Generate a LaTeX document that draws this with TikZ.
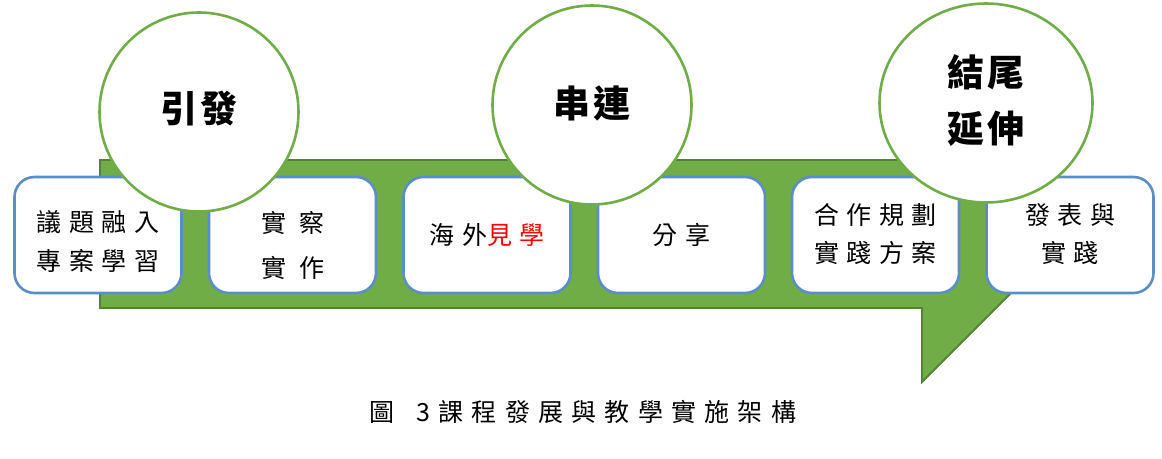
\documentclass[tikz,border=0pt]{standalone}
\usepackage{fontspec}
\usetikzlibrary{shapes.geometric}
\newfontfamily\cjk[LetterSpace=30]{Noto Sans CJK TC}
\newfontfamily\cjkwide[LetterSpace=52]{Noto Sans CJK TC}
\newfontfamily\cjkcirc[LetterSpace=10]{Noto Sans CJK TC}
\newfontfamily\cjkcap[LetterSpace=33]{Noto Sans CJK TC}
\definecolor{bandgreen}{RGB}{112,173,71}
\definecolor{banddark}{RGB}{84,130,53}
\definecolor{boxblue}{RGB}{91,142,201}
\tikzset{
  stagebox/.style={rounded corners=20pt, draw=boxblue, line width=2.6pt, fill=white,
    minimum width=167pt, minimum height=116pt, inner sep=0pt},
  phase/.style={circle, draw=bandgreen, line width=2.6pt, fill=white,
    minimum size=199pt, inner sep=0pt},
  boxtext/.style={font=\cjk\fontsize{25}{39}\selectfont, align=center, inner sep=0pt},
  circtext/.style={font=\cjkcirc\bfseries\fontsize{37}{56}\selectfont, align=center, inner sep=0pt},
}
\begin{document}
\begin{tikzpicture}[x=1pt,y=-1pt]
\useasboundingbox (0,0) rectangle (1162,458);
% green band with tail
\draw[fill=bandgreen, draw=banddark, line width=1.8pt]
  (100,160) -- (1010,160) -- (1010,294) -- (922,382) -- (922,308) -- (100,308) -- cycle;
% stage boxes
\node[stagebox] (b1) at (98,235) {};
\node[stagebox] (b2) at (292.5,235) {};
\node[stagebox] (b3) at (487,235) {};
\node[stagebox] (b4) at (681.5,235) {};
\node[stagebox] (b5) at (875.5,235) {};
\node[stagebox] (b6) at (1070,235) {};
% box texts
\node[boxtext] (t1) at ([yshift=-7pt]b1.center) {議題融入\\專案學習};
\node[boxtext, font=\cjkwide\fontsize{25}{45}\selectfont] (t2) at ([yshift=-10pt]b2.center) {實察\\實作};
\node[boxtext] (t3) at (b3.center) {海外\textcolor{red}{見學}};
\node[boxtext] (t4) at (b4.center) {分享};
\node[boxtext, font=\cjk\fontsize{25}{38}\selectfont] (t5) at ([yshift=1pt]b5.center) {合作規劃\\實踐方案};
\node[boxtext, font=\cjk\fontsize{25}{38}\selectfont] (t6) at ([yshift=1pt]b6.center) {發表與\\實踐};
% phase circles
\node[phase] (c1) at (199,112) {};
\node[phase] (c2) at (592,105) {};
\node[phase, ellipse, minimum width=213pt, minimum height=199pt] (c3) at (986,103) {};
\node[circtext] (p1) at ([yshift=3pt]c1.center) {引發};
\node[circtext] (p2) at ([yshift=1pt]c2.center) {串連};
\node[circtext] (p3) at ([yshift=2pt]c3.center) {結尾\\延伸};
% caption
\node[font=\cjkcap\fontsize{25}{28}\selectfont, inner sep=0pt] (cap) at (583,412) {圖\hspace{8pt} 3課程發展與教學實施架構};
\end{tikzpicture}
\end{document}
